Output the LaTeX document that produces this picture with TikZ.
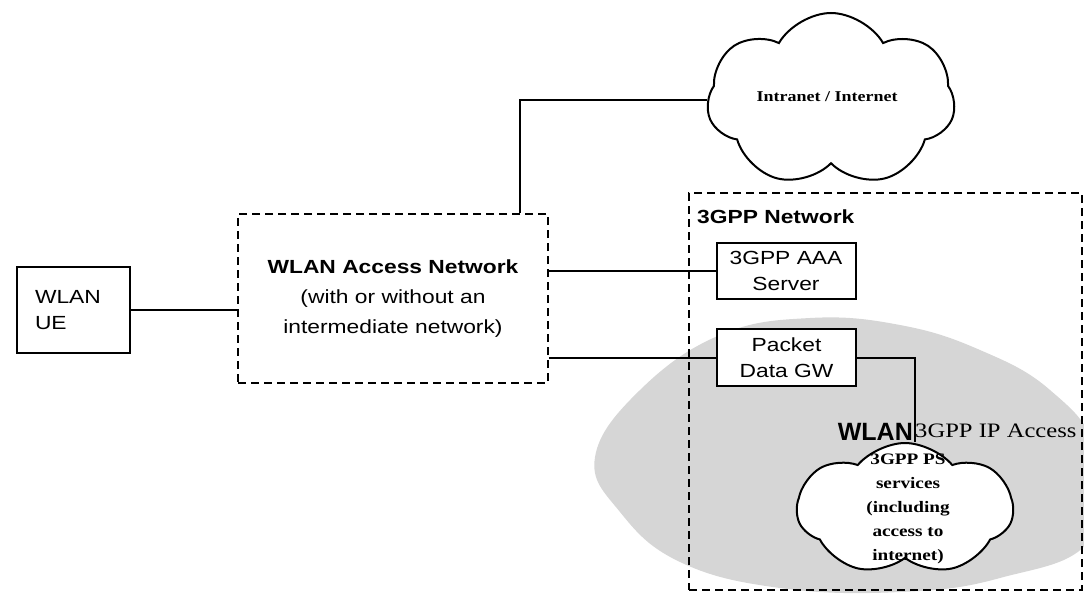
\documentclass[tikz,border=0pt]{standalone}
\usepackage{fontspec}
\setmainfont{Liberation Serif}
\newfontfamily\sfw[FakeStretch=1.2]{Liberation Sans}
\newfontfamily\rmw[FakeStretch=1.2]{Liberation Serif}
\newfontfamily\sfn{Liberation Sans}
\usetikzlibrary{shapes.symbols}
\begin{document}
\begin{tikzpicture}[x=1pt,y=-1pt,
  solidbox/.style={draw,line width=2pt,fill=white,inner sep=0pt,font=\sfw\fontsize{19}{26}\selectfont,align=center},
  dashbox/.style={draw,line width=2pt,dash pattern=on 8pt off 5pt,inner sep=0pt},
  conn/.style={line width=2pt},
  cloudnode/.style={cloud,draw,line width=2pt,fill=white,inner sep=0pt},
  ctext/.style={font=\rmw\bfseries\fontsize{16}{24}\selectfont,align=center}]
\useasboundingbox (0,0) rectangle (1084,597);
\begin{scope}
\clip (0,0) rectangle (1084,597);
\fill[black!16] plot[smooth cycle,tension=0.7] coordinates {(595,457) (640,390) (720,335) (810,318) (900,325) (980,350) (1050,390) (1095,450) (1090,540) (1000,578) (900,592) (780,588) (680,562) (620,512)};
\end{scope}
% 3GPP network
\node[dashbox,minimum width=393pt,minimum height=397pt] (net3) at (885.5,391.5) {};
\node[anchor=west,font=\sfw\bfseries\fontsize{19}{24}\selectfont,inner sep=0pt] (net3lbl) at (697,217) {3GPP Network};
% boxes
\node[solidbox,minimum width=113pt,minimum height=86pt,text width=77pt,align=left] (ue) at (73.5,310) {WLAN\\UE};
\node[dashbox,minimum width=310pt,minimum height=169pt,align=center,font=\sfw\fontsize{19}{30}\selectfont] (an) at (393,298.5) {\bfseries WLAN Access Network\\(with or without an\\intermediate network)};
\node[solidbox,minimum width=139pt,minimum height=56pt] (aaa) at (786,271) {3GPP AAA\\Server};
\node[solidbox,minimum width=139pt,minimum height=57pt] (pdg) at (786.5,357.5) {Packet\\Data GW};
% clouds
\node[cloudnode,cloud puffs=7,cloud puff arc=120,minimum width=248pt,minimum height=174pt] (inet) at (831,100) {};
\node[font=\rmw\bfseries\fontsize{15}{18}\selectfont] (inettxt) at (827,97) {Intranet / Internet};
\node[cloudnode,cloud puffs=7,cloud puff arc=100,minimum width=216pt,minimum height=132pt] (ps) at (905,509) {};
\node[ctext] (pstxt) at (908,509) {3GPP PS\\services\\(including\\access to\\internet)};
% connectors
\draw[conn] (ue.east) -- (ue.east -| an.west);
\draw[conn] ([xshift=127pt]an.north) |- (inet.west);
\draw[conn] (aaa.west) -- (aaa.west -| an.east);
\draw[conn] (pdg.west) -- (pdg.west -| an.east);
\draw[conn] (pdg.east) -| ([xshift=10pt]ps.north);
% labels
\node[anchor=base east,inner sep=0pt,font=\sfn\bfseries\fontsize{25}{30}\selectfont] (wlanlbl) at (913,440) {WLAN};
\node[anchor=base west,inner sep=0pt,font=\rmw\fontsize{20.5}{26}\selectfont] (ipacc) at (915,437) {3GPP IP Access};
\end{tikzpicture}
\end{document}
